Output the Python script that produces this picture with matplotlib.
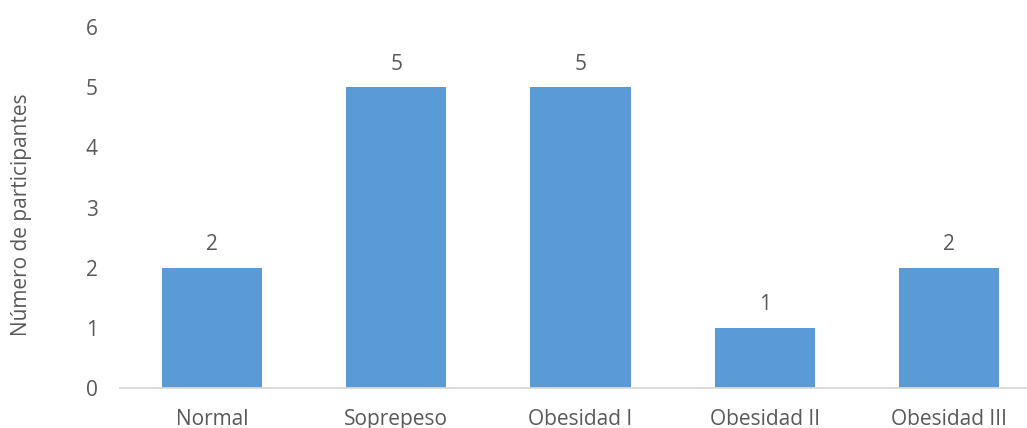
import matplotlib
matplotlib.use("Agg")
import matplotlib.pyplot as plt

categories = ["Normal", "Soprepeso", "Obesidad I", "Obesidad II", "Obesidad III"]
participants = [2, 5, 5, 1, 2]
y_ticks = [0, 1, 2, 3, 4, 5, 6]

bar_color = "#5B9BD5"
text_color = "#595959"
axis_color = "#D9D9D9"

plt.rcParams["font.family"] = ["Open Sans", "DejaVu Sans"]

W, H = 1027, 428
fig = plt.figure(figsize=(W / 100, H / 100), dpi=100)
ax = fig.add_axes([120 / W, 40 / H, 921 / W, 361 / H])

x = list(range(len(categories)))
bars = ax.bar(x, participants, width=0.545, color=bar_color, zorder=2)

for xi, v in zip(x, participants):
    ax.annotate(str(v), (xi, v), xytext=(0, 9), textcoords="offset points",
                ha="center", va="bottom", fontsize=15, color=text_color)

ax.set_xlim(-0.5, len(categories) - 0.5)
ax.set_ylim(0, 6)
ax.set_yticks(y_ticks)
ax.set_xticks(x)
ax.set_xticklabels(categories)

for s in ["top", "right", "left"]:
    ax.spines[s].set_visible(False)
ax.spines["bottom"].set_color(axis_color)
ax.spines["bottom"].set_linewidth(1.3)

ax.tick_params(axis="both", length=0, labelsize=15, colors=text_color)
ax.tick_params(axis="y", pad=16)
ax.tick_params(axis="x", pad=15)

fig.text(22 / W, 1 - 215 / H, "Número de participantes", rotation=90,
         ha="center", va="center", fontsize=15, color=text_color)

fig.savefig("out.png", dpi=100)
